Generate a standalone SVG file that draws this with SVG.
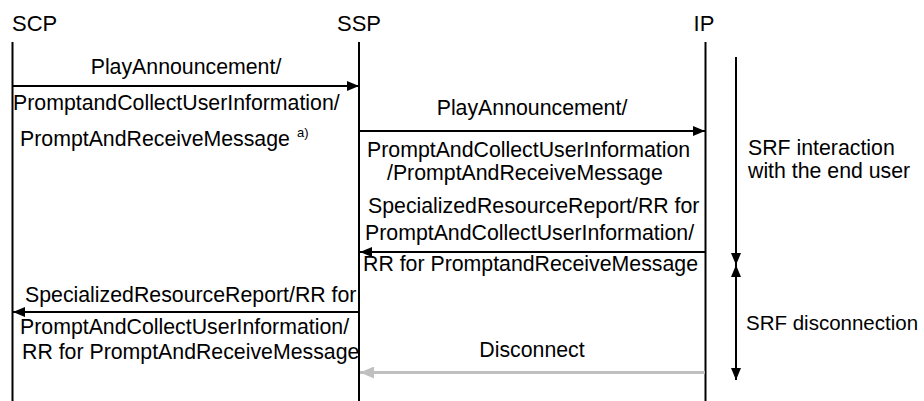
<svg xmlns="http://www.w3.org/2000/svg" width="924" height="401" viewBox="0 0 924 401">
<defs>
<style>
text{font-family:"Liberation Sans",Arial,sans-serif;font-size:21.3px;fill:#000}
.hdr{font-size:22px}
.sup{font-size:13px}
.side{font-size:20.5px}
.life{stroke:#000;stroke-width:2;fill:none}
.msg{stroke:#000;stroke-width:2;fill:none}
.gray{stroke:#c0c0c0;stroke-width:3;fill:none}
.mid{text-anchor:middle}
</style>
<marker id="ah" viewBox="0 0 12 10" refX="12" refY="5" markerWidth="12" markerHeight="10" markerUnits="userSpaceOnUse" orient="auto">
<path d="M0,0 L12,5 L0,10 Z" fill="#000"/>
</marker>
<marker id="ahg" viewBox="0 0 14 12" refX="14" refY="6" markerWidth="14" markerHeight="12" markerUnits="userSpaceOnUse" orient="auto">
<path d="M0,0 L14,6 L0,12 Z" fill="#c0c0c0"/>
</marker>
</defs>
<rect width="924" height="401" fill="#fff"/>

<g id="SCP">
<text class="hdr" x="12" y="31">SCP</text>
<line class="life" x1="12.5" y1="42" x2="12.5" y2="401"/>
</g>
<g id="SSP">
<text class="hdr mid" x="359" y="31">SSP</text>
<line class="life" x1="359" y1="42" x2="359" y2="401"/>
</g>
<g id="IP">
<text class="hdr mid" x="704" y="31">IP</text>
<line class="life" x1="705.5" y1="42" x2="705.5" y2="401"/>
</g>

<g id="connectors">
<g id="m1">
<line class="msg" x1="13" y1="86" x2="359" y2="86" marker-end="url(#ah)"/>
<text class="mid" x="186" y="74">PlayAnnouncement/</text>
<text x="13" y="110">PromptandCollectUserInformation/</text>
<text x="20" y="146">PromptAndReceiveMessage</text>
<text class="sup" x="297" y="137">a)</text>
</g>
<g id="m2">
<line class="msg" x1="360" y1="131" x2="705" y2="131" marker-end="url(#ah)"/>
<text class="mid" x="532" y="115">PlayAnnouncement/</text>
<text x="367" y="157">PromptAndCollectUserInformation</text>
<text x="387" y="180">/PromptAndReceiveMessage</text>
</g>
<g id="m3">
<line class="msg" x1="705" y1="252" x2="360" y2="252" marker-end="url(#ah)"/>
<text x="368" y="213">SpecializedResourceReport/RR for</text>
<text x="365" y="240">PromptAndCollectUserInformation/</text>
<text x="363" y="271">RR for PromptandReceiveMessage</text>
</g>
<g id="m4">
<line class="msg" x1="358" y1="312" x2="13" y2="312" marker-end="url(#ah)"/>
<text x="25" y="302">SpecializedResourceReport/RR for</text>
<text x="20" y="334">PromptAndCollectUserInformation/</text>
<text x="22" y="359">RR for PromptAndReceiveMessage</text>
</g>
<g id="m5">
<line class="gray" x1="705" y1="372.5" x2="360" y2="372.5" marker-end="url(#ahg)"/>
<text class="mid" x="532" y="357">Disconnect</text>
</g>
</g>

<g id="phases">
<line class="msg" x1="736" y1="57" x2="736" y2="265" marker-end="url(#ah)"/>
<line class="msg" x1="736" y1="380" x2="736" y2="265" marker-end="url(#ah)"/>
<line class="msg" x1="736" y1="265" x2="736" y2="380" marker-end="url(#ah)"/>
<text x="748" y="155">SRF interaction</text>
<text x="748" y="178">with the end user</text>
<text class="side" x="746" y="330">SRF disconnection</text>
</g>
</svg>
